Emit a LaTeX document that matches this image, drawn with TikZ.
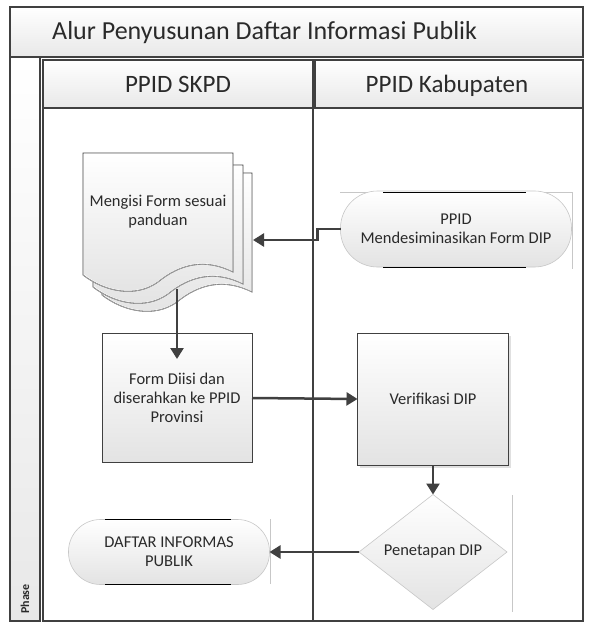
\documentclass[tikz,border=0pt]{standalone}
\usepackage{fontspec}
\setmainfont{Carlito}
\usetikzlibrary{shapes.geometric,arrows.meta,calc}
\definecolor{ln}{HTML}{404040}
\definecolor{tx}{HTML}{2A2A2A}
\begin{document}
\begin{tikzpicture}[x=1pt,y=-1pt,
  frame/.style={draw=ln, line width=2.2pt},
  conn/.style={draw=ln, line width=2.5pt, -{Triangle[length=11pt,width=13pt]}},
  shd/.style={top color=white, bottom color=black!11},
  bandshd/.style={top color=white, bottom color=black!9},
  txt/.style={font=\fontsize{16.5}{19}\selectfont, text=tx, align=center},
  boxnode/.style={rectangle, shd, draw=ln, line width=1pt, inner sep=2pt, outer sep=0pt},
  term/.style={rectangle, shd, draw=black!22, line width=0.6pt, inner sep=2pt, outer sep=0pt},
  page/.style={fill=white, draw=ln, line width=0.8pt},
  faint/.style={draw=black!22, line width=0.6pt},
  headtxt/.style={font=\fontsize{25}{28}\selectfont, text=tx, anchor=base, inner sep=0pt}
]
\useasboundingbox (0,0) rectangle (599,631);
\fill[white] (0,0) rectangle (599,631);

% title band
\shade[bandshd] (10,7) rectangle (583,57);
\draw[frame] (10,7) rectangle (583,57);
\node[anchor=west, font=\fontsize{26}{30}\selectfont, text=tx, inner sep=0pt] (title) at (52,33) {Alur Penyusunan Daftar Informasi Publik};

% phase column
\shade[bandshd] (10,57) rectangle (40,621);
\draw[frame] (10,57) rectangle (40,621);
\node[rotate=90, anchor=west, font=\fontsize{12}{14}\selectfont\bfseries, text=tx, inner sep=0pt] (phase) at (25,614) {Phase};

% lane headers
\shade[bandshd] (43,60) rectangle (313,108);
\draw[frame] (43,60) rectangle (313,108);
\shade[bandshd] (315,60) rectangle (583,108);
\draw[frame] (315,60) rectangle (583,108);
\node[headtxt] (hskpd) at (178,93) {PPID SKPD};
\node[headtxt] (hkab) at (447,93) {PPID Kabupaten};

% lane body lines
\draw[frame] (43,108) -- (43,621) -- (583,621) -- (583,108);
\draw[frame] (313,108) -- (313,621);

% multi-document
\foreach \dx/\dy in {19/20, 10/12, 0/0} {
  \begin{scope}[shift={(\dx,\dy)}]
    \path[page, fill=white] (83,153) -- (233,153) -- (233,272)
      .. controls (205,258) and (180,264) .. (158,282)
      .. controls (136,298) and (105,292) .. (83,275) -- cycle;
    \shade[shd] (84,154) -- (232,154) -- (232,271)
      .. controls (205,257) and (180,263) .. (158,281)
      .. controls (136,297) and (105,291) .. (84,274) -- cycle;
    \draw[faint, draw=black!30] (233,272)
      .. controls (205,258) and (180,264) .. (158,282)
      .. controls (136,298) and (105,292) .. (83,275);
  \end{scope}
}
\node[txt] (doc) at (158,212) {Mengisi Form sesuai\\panduan};
\coordinate (docR) at (253,240);
\coordinate (docB) at (177,289);

% process boxes
\fill[black!12] (360,336) rectangle (511,468);
\node[boxnode, minimum width=150pt, minimum height=129pt, txt] (form) at (177,398) {Form Diisi dan\\diserahkan ke PPID\\Provinsi};
\node[boxnode, minimum width=151pt, minimum height=132pt, txt] (verif) at (433,399) {Verifikasi DIP};
\coordinate (formIn) at (177,359);

% decision
\draw[faint] (512,495) -- (512,612);
\node[diamond, aspect=1.29, shd, draw=black!22, line width=0.6pt, minimum width=148pt, minimum height=115pt, inner sep=0pt, outer sep=0pt, txt] (penet) at (433,552) {Penetapan DIP};

% terminators
\draw[faint] (340,192) -- (572,192);
\draw[faint] (572,192) -- (572,269);
\node[term, rounded corners=37pt, minimum width=231pt, minimum height=76pt, txt] (ppid) at (456,229) {PPID\\Mendesiminasikan Form DIP};
\draw[draw=black, line width=0.8pt] (383,192) -- (526,192);
\draw[draw=black, line width=0.8pt] (383,267) -- (526,267);

\draw[faint] (270,519) -- (270,584);
\node[term, rounded corners=32pt, minimum width=201pt, minimum height=65pt, txt] (daftar) at (169,552) {DAFTAR INFORMAS\\PUBLIK};
\draw[draw=black, line width=0.8pt] (105,519) -- (231,519);
\draw[draw=black, line width=0.8pt] (105,584) -- (231,584);

% connectors
\draw[conn] (ppid.west) -- ++(-23,0) |- (docR);
\draw[conn] (docB) -- (formIn);
\draw[conn] (form.east) -- (verif.west);
\draw[conn] (verif.south) -- (penet.north);
\draw[conn] (penet.west) -- (daftar.east);
\end{tikzpicture}
\end{document}
